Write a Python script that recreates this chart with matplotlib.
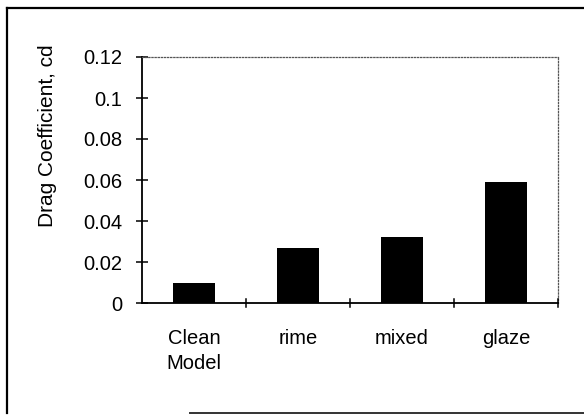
import matplotlib
matplotlib.use('Agg')
import matplotlib.pyplot as plt
from matplotlib.lines import Line2D
import numpy as np

categories = ['Clean\nModel', 'rime', 'mixed', 'glaze']
drag_coeff = [0.010, 0.027, 0.032, 0.059]
y_ticks = [0, 0.02, 0.04, 0.06, 0.08, 0.1, 0.12]
y_tick_labels = ['0', '0.02', '0.04', '0.06', '0.08', '0.1', '0.12']

plt.rcParams['font.family'] = ['Liberation Sans', 'DejaVu Sans']

W, H = 584, 415
fig = plt.figure(figsize=(W / 100, H / 100), dpi=100)
# plot area: x 142..558, y 57..303 (pixels)
ax = fig.add_axes([142 / W, 1 - 303 / H, 416 / W, 246 / H])

x = np.arange(len(categories))
ax.bar(x, drag_coeff, width=0.41, color='black', zorder=3)

ax.set_xlim(-0.5, len(categories) - 0.5)
ax.set_ylim(0, 0.12)
ax.set_yticks(y_ticks)
ax.set_yticklabels(y_tick_labels, fontsize=14.5)
ax.set_xticks(x)
ax.set_xticklabels(categories, fontsize=14.5, va='top', linespacing=1.35)
ax.tick_params(axis='x', length=0, pad=19)
ax.tick_params(axis='y', direction='inout', length=8, width=1.1, pad=10)

# ticks between categories on x axis
for b in np.arange(0.5, len(categories), 1.0):
    ax.plot([b, b], [-0.002, 0.002], color='black', lw=1.1, clip_on=False, zorder=4)

ax.set_ylabel('Drag Coefficient, cd', fontsize=15)
ax.yaxis.set_label_coords(-0.205, 0.68)

for side in ['top', 'right']:
    ax.spines[side].set_linestyle((0, (1, 1.5)))
    ax.spines[side].set_color('#555555')
    ax.spines[side].set_linewidth(0.9)
for side in ['left', 'bottom']:
    ax.spines[side].set_color('black')
    ax.spines[side].set_linewidth(1.3)

# outer chart border (left, top, partial bottom as in the scan)
fig.add_artist(Line2D([7 / W, 7 / W], [1 - 8 / H, 1 - 413 / H], color='black', lw=1.6))
fig.add_artist(Line2D([7 / W, 1.0], [1 - 8 / H, 1 - 8 / H], color='black', lw=1.6))
fig.add_artist(Line2D([190 / W, 1.0], [1 - 413 / H, 1 - 413 / H], color='#333333', lw=1.4))

fig.savefig('out.png', dpi=100)
